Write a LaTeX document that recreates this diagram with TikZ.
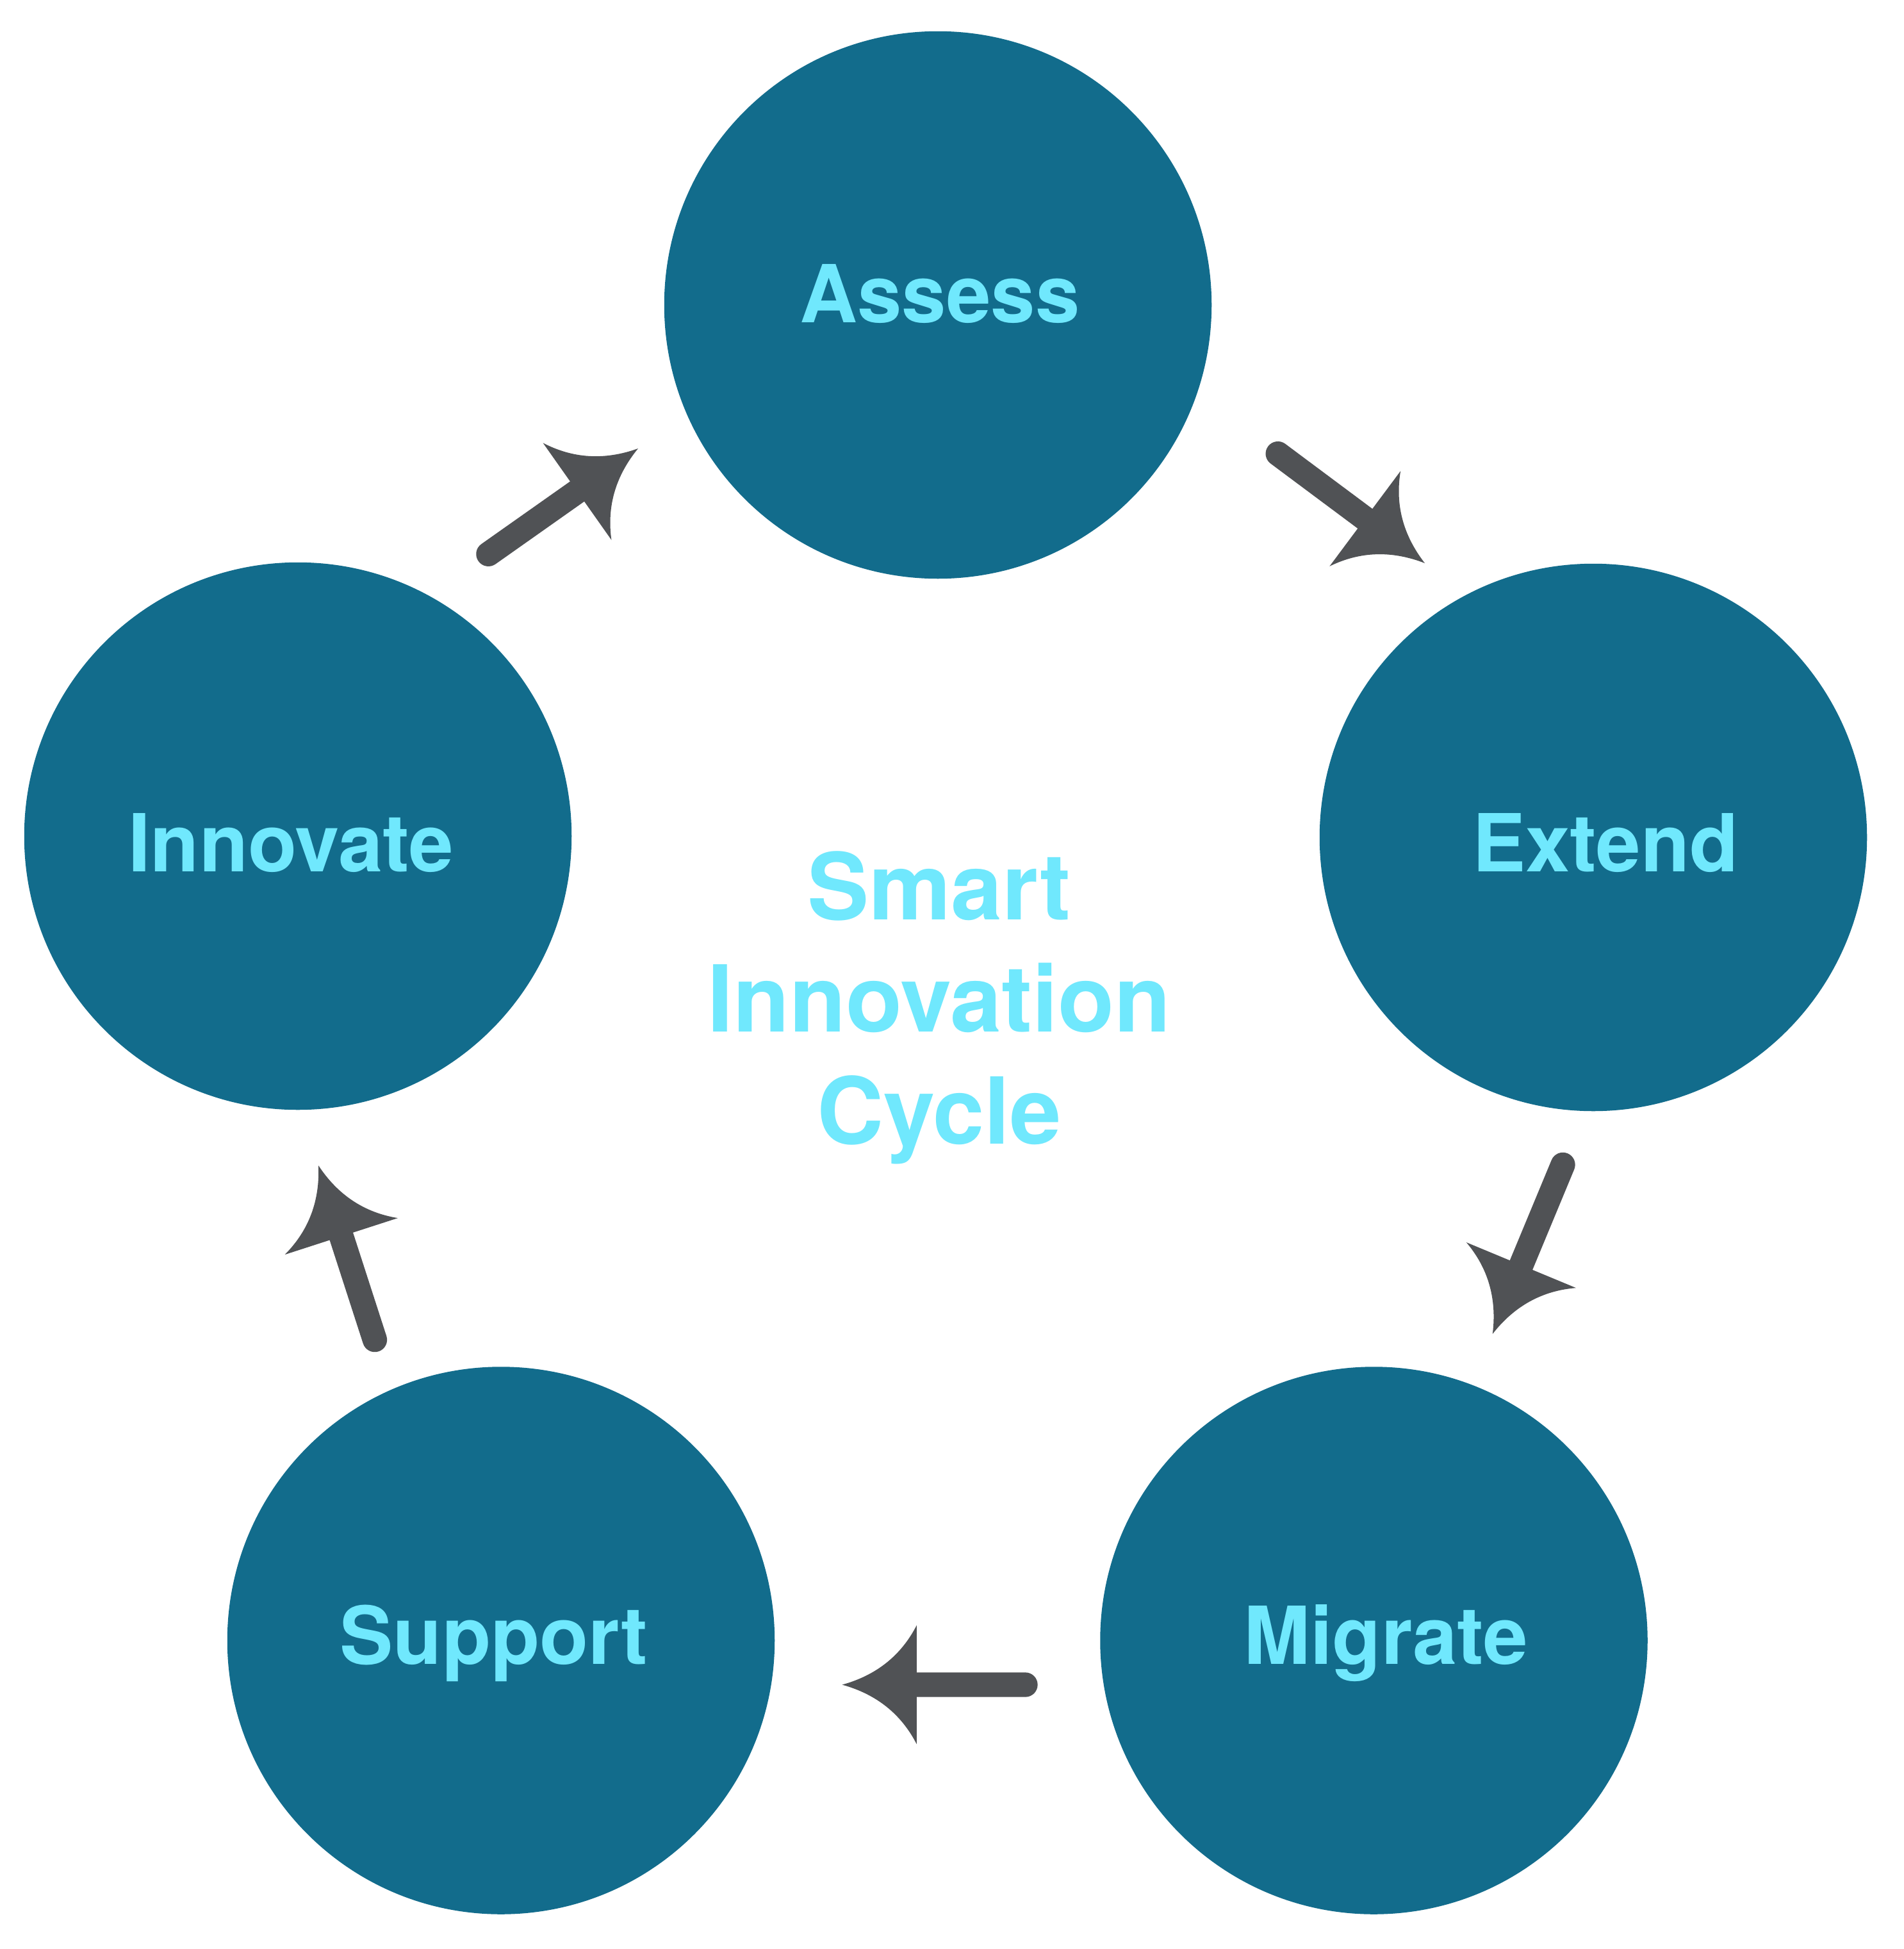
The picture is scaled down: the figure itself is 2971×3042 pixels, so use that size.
\documentclass[tikz,border=0pt]{standalone}
\usepackage{fontspec}
\setmainfont{TeX Gyre Heros}
\usetikzlibrary{calc}
\definecolor{circfill}{HTML}{126C8C}
\definecolor{cyantext}{HTML}{70E8FD}
\definecolor{arrowgray}{HTML}{505255}
\tikzset{
  circ/.style={circle, fill=circfill, minimum size=8.54cm, inner sep=0pt},
  lbl/.style={text=cyantext, font=\fontsize{35.5pt}{42pt}\selectfont\bfseries, anchor=base, inner sep=0pt},
  ttl/.style={text=cyantext, font=\fontsize{41pt}{50pt}\selectfont\bfseries, anchor=base, inner sep=0pt},
  arrowshaft/.style={draw=arrowgray, line width=0.383cm, line cap=round},
}
\newcommand\cyclearrow[2]{%
  \pgfmathanglebetweenpoints{\pgfpointanchor{#1}{center}}{\pgfpointanchor{#2}{center}}%
  \let\myarrang\pgfmathresult
  \draw[arrowshaft] (#1) -- ($(#2)!0.405!(#1)$);
  \begin{scope}[shift={(#2)}, rotate=\myarrang]
    \fill[arrowgray] (-116.3,92.7) .. controls (-92.1,45.6) and (-53.3,14.7) .. (0,0)
      .. controls (-53.3,-14.7) and (-92.1,-45.6) .. (-116.3,-92.7) -- cycle;
  \end{scope}}
\begin{document}
\begin{tikzpicture}[x=0.01cm, y=-0.01cm]
  \useasboundingbox (0,0) rectangle (2971,3042);
  \fill[white] (0,0) rectangle (2971,3042);

  % circles
  \node[circ] (assess)   at (1464, 476) {};
  \node[circ] (extend)   at (2487, 1307) {};
  \node[circ] (migrate)  at (2144.5, 2560.5) {};
  \node[circ] (support)  at (782, 2560.5) {};
  \node[circ] (innovate) at (465, 1305) {};

  % labels
  \node[lbl] (assessl)   at (1467, 503) {Assess};
  \node[lbl] (extendl)   at (2506, 1360) {Extend};
  \node[lbl] (migratel)  at (2163, 2597) {Migrate};
  \node[lbl] (supportl)  at (771, 2597) {Support};
  \node[lbl] (innovatel) at (454, 1360) {Innovate};

  % centre title
  \node[ttl] (smart) at (1466, 1435) {Smart};
  \node[ttl] (innov) at (1466, 1610) {Innovation};
  \node[ttl] (cycle) at (1466, 1785) {Cycle};

  % arrow end points
  \coordinate (tailIA) at (762.4, 864.8);
  \coordinate (tipIA)  at (996, 700);
  \coordinate (tailAE) at (1994.7, 708.1);
  \coordinate (tipAE)  at (2224, 879);
  \coordinate (tailEM) at (2439.5, 1817.9);
  \coordinate (tipEM)  at (2329.8, 2082);
  \coordinate (tailMS) at (1600.5, 2629.5);
  \coordinate (tipMS)  at (1314.5, 2629.5);
  \coordinate (tailSI) at (585, 2091.1);
  \coordinate (tipSI)  at (497, 1819);

  \cyclearrow{tailIA}{tipIA}
  \cyclearrow{tailAE}{tipAE}
  \cyclearrow{tailEM}{tipEM}
  \cyclearrow{tailMS}{tipMS}
  \cyclearrow{tailSI}{tipSI}
\end{tikzpicture}
\end{document}
